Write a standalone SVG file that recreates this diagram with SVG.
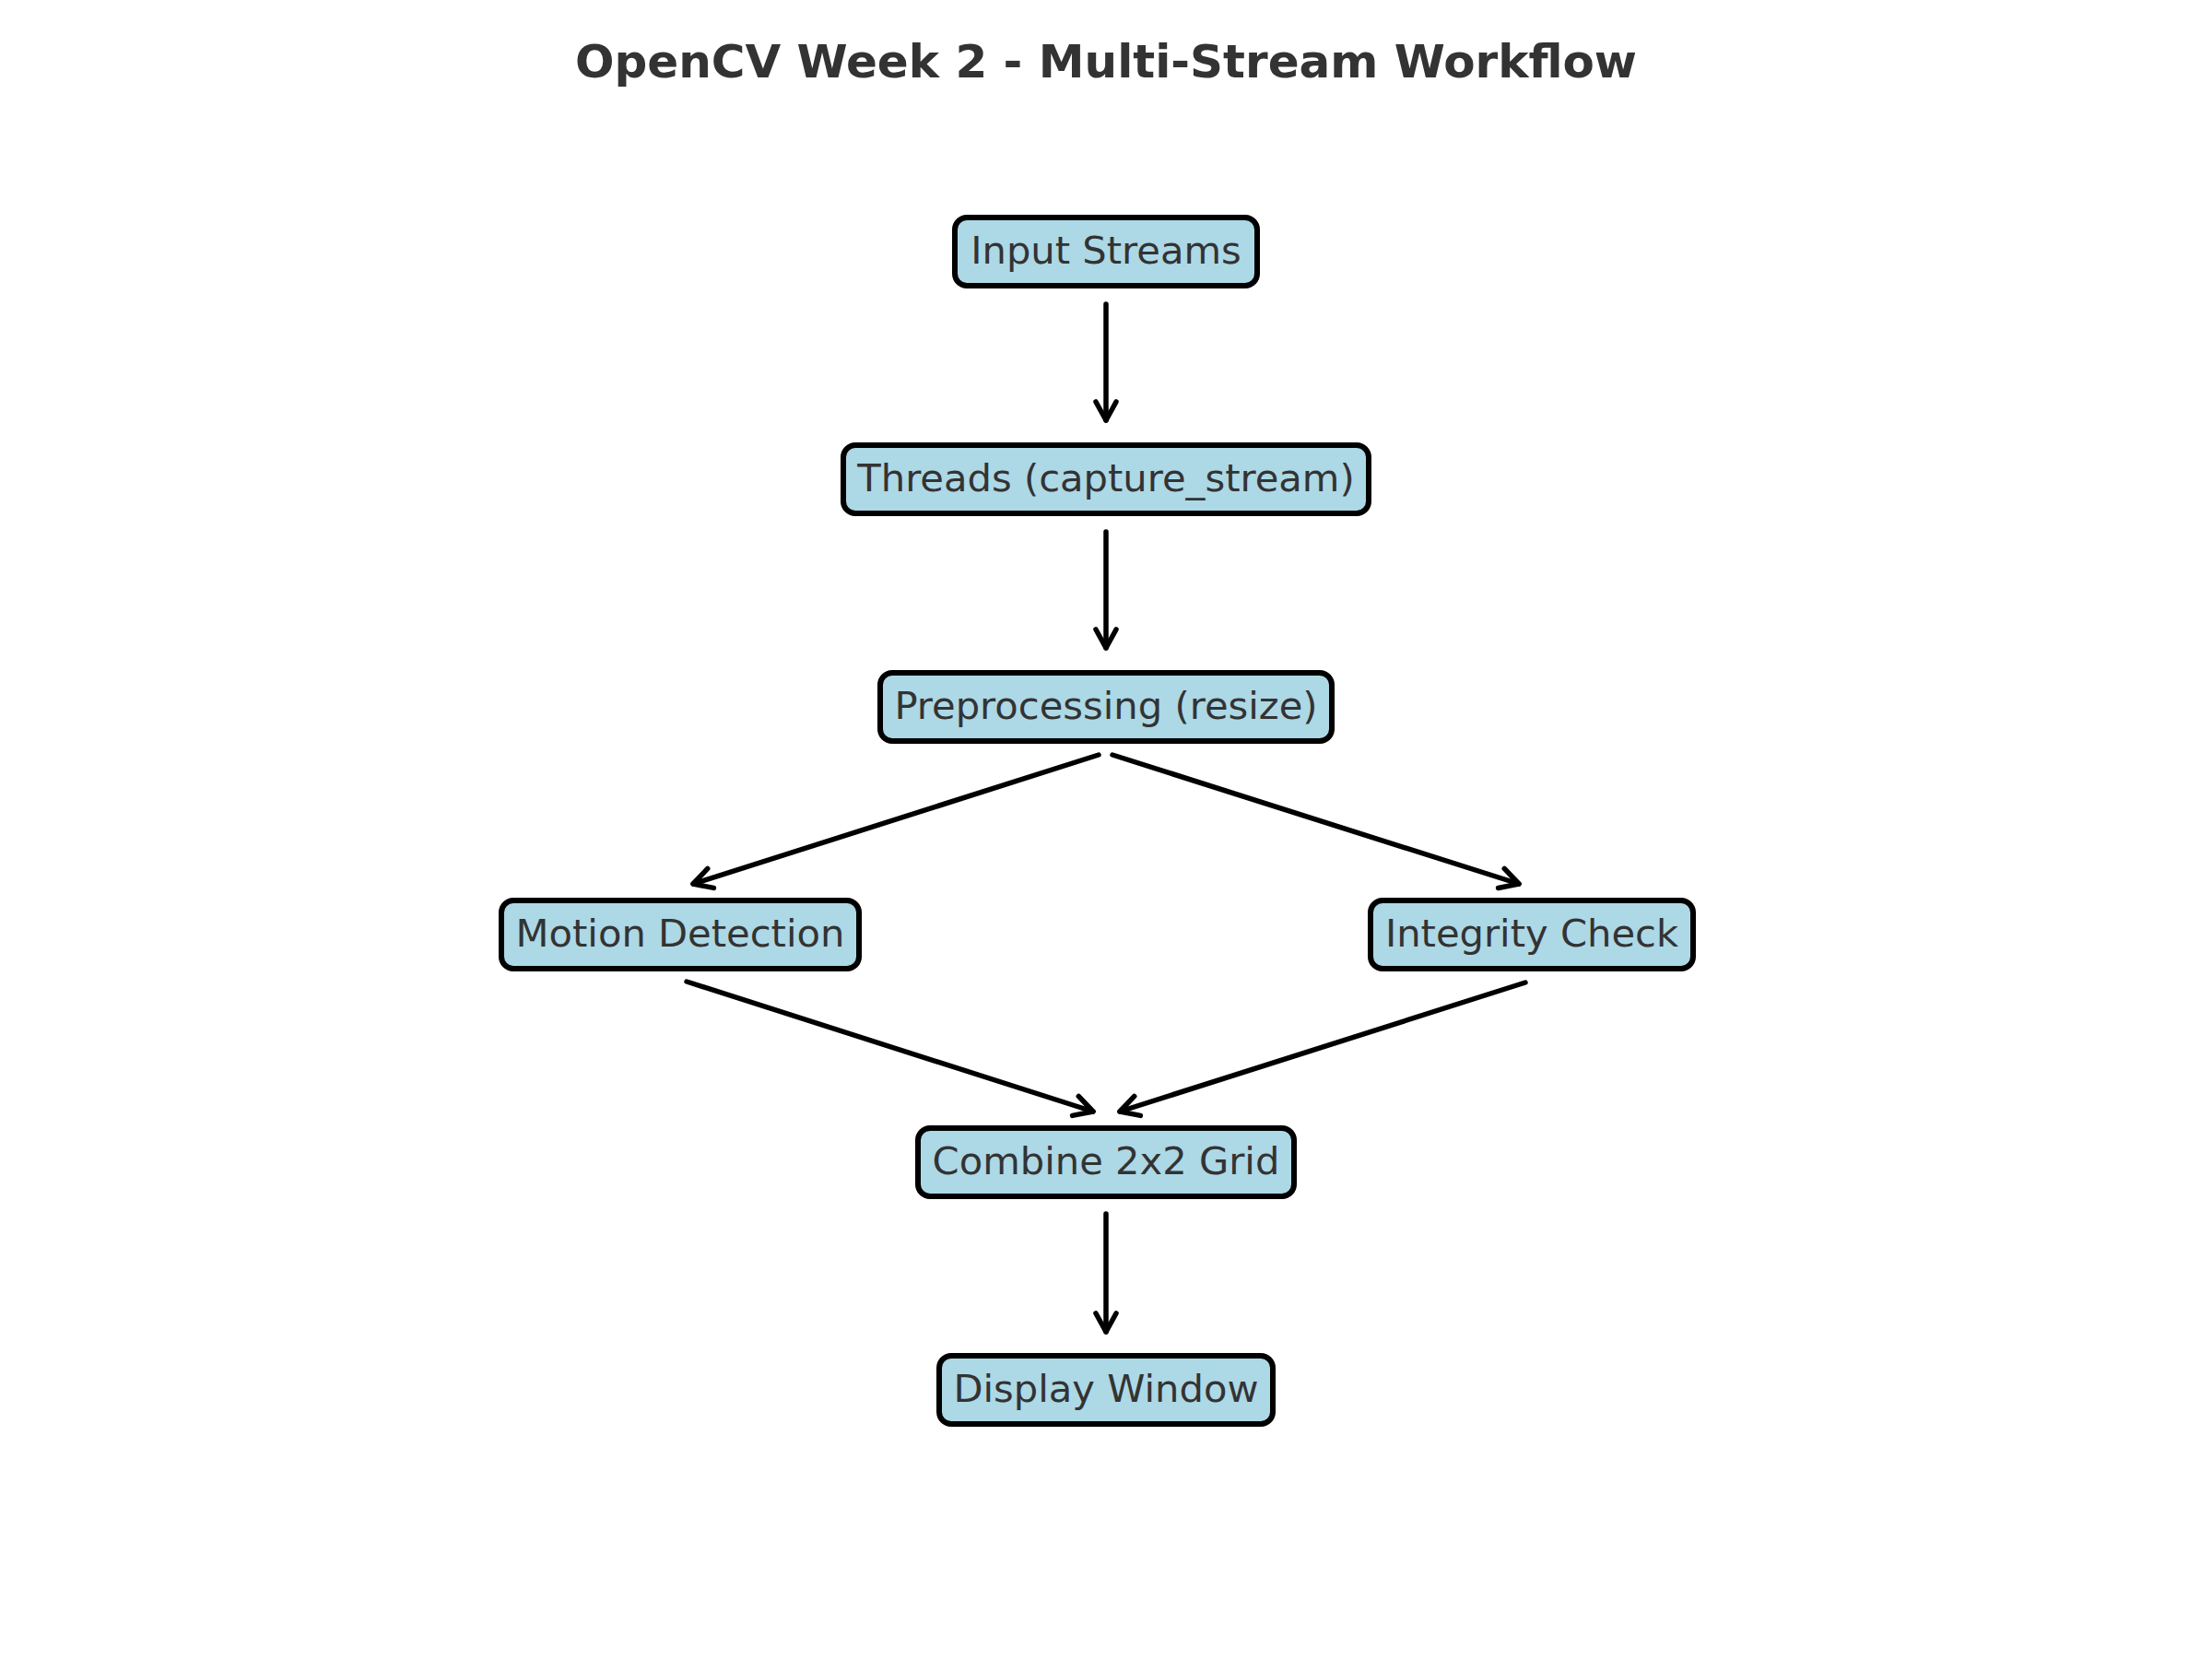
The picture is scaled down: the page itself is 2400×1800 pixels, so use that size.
<svg xmlns="http://www.w3.org/2000/svg" width="2400" height="1800" viewBox="0 0 2400 1800">
<style>
.box{fill:#ADD8E6;stroke:#000;stroke-width:6}
.lbl{font-family:"DejaVu Sans",sans-serif;font-size:41.67px;fill:#333;text-anchor:middle}
.title{font-family:"DejaVu Sans",sans-serif;font-size:50px;font-weight:bold;fill:#333;text-anchor:middle}
.edge{stroke:#000;stroke-width:5.5;fill:none;stroke-linecap:round;marker-end:url(#ah)}
</style>
<defs>
<marker id="ah" markerUnits="userSpaceOnUse" viewBox="-26 -15 30 30" refX="0" refY="0" markerWidth="30" markerHeight="30" orient="auto">
<path d="M -20 -11 L 0 0 L -20 11" fill="none" stroke="#000" stroke-width="5.5" stroke-linecap="round" stroke-linejoin="round"/>
</marker>
</defs>
<rect width="2400" height="1800" fill="#fff"/>
<text class="title" x="1200" y="84">OpenCV Week 2 - Multi-Stream Workflow</text>
<g id="connectors">
<line class="edge" x1="1200" y1="330" x2="1200" y2="456"/>
<line class="edge" x1="1200" y1="577" x2="1200" y2="703"/>
<line class="edge" x1="1192" y1="819" x2="752" y2="959"/>
<line class="edge" x1="1207" y1="819" x2="1648" y2="959"/>
<line class="edge" x1="745" y1="1065" x2="1186" y2="1206"/>
<line class="edge" x1="1655" y1="1066" x2="1215" y2="1206"/>
<line class="edge" x1="1200" y1="1317" x2="1200" y2="1445"/>
</g>
<g id="input-streams"><rect class="box" x="1036" y="236" width="328" height="74" rx="13"/><text class="lbl" x="1200" y="286">Input Streams</text></g>
<g id="threads"><rect class="box" x="915" y="483" width="570" height="74" rx="13"/><text class="lbl" x="1200" y="533">Threads (capture_stream)</text></g>
<g id="preprocessing"><rect class="box" x="955" y="730" width="490" height="74" rx="13"/><text class="lbl" x="1200" y="780">Preprocessing (resize)</text></g>
<g id="motion-detection"><rect class="box" x="544" y="977" width="388" height="74" rx="13"/><text class="lbl" x="738" y="1027">Motion Detection</text></g>
<g id="integrity-check"><rect class="box" x="1487" y="977" width="350" height="74" rx="13"/><text class="lbl" x="1662" y="1027">Integrity Check</text></g>
<g id="combine-grid"><rect class="box" x="996" y="1224" width="408" height="74" rx="13"/><text class="lbl" x="1200" y="1274">Combine 2x2 Grid</text></g>
<g id="display-window"><rect class="box" x="1019" y="1471" width="362" height="74" rx="13"/><text class="lbl" x="1200" y="1521">Display Window</text></g>
</svg>
